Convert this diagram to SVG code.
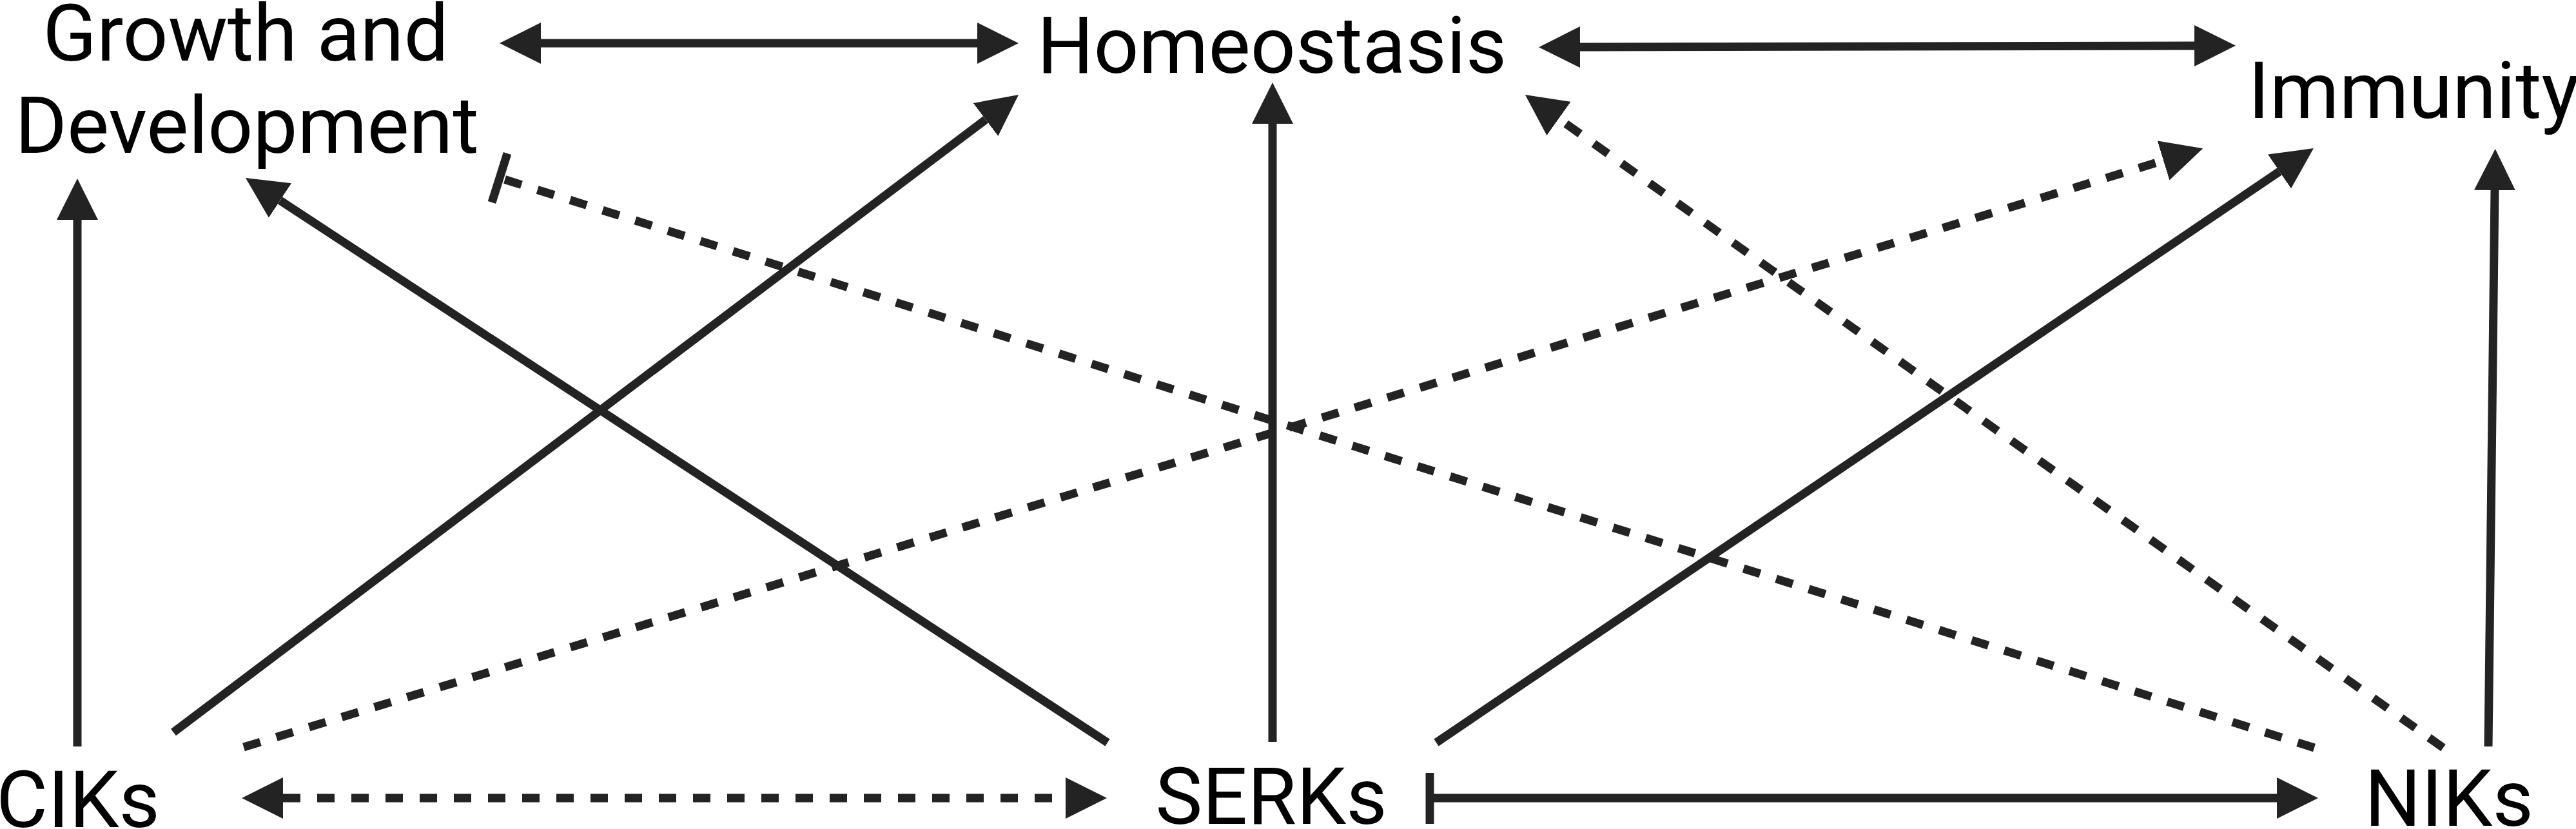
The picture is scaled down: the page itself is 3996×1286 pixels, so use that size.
<svg xmlns="http://www.w3.org/2000/svg" width="3996" height="1286" viewBox="0 0 3996 1286">
<style>
.lbl{font-family:Roboto,"Liberation Sans",sans-serif;font-size:123px;fill:#000;text-anchor:middle}
.c{stroke:#232323;stroke-width:13;fill:none}
.d{stroke-dasharray:27 26}
</style>
<defs>
<marker id="ah" viewBox="0 0 64 64" refX="0" refY="32" markerWidth="64" markerHeight="64" markerUnits="userSpaceOnUse" orient="auto-start-reverse">
<path d="M0,0 L64,32 L0,64 Z" fill="#232323"/>
</marker>
</defs>
<rect width="3996" height="1286" fill="#fff"/>
<g id="growth"><text class="lbl" x="381" y="94">Growth and</text><text class="lbl" x="383" y="237">Development</text></g>
<g id="homeostasis"><text class="lbl" x="1973" y="113">Homeostasis</text></g>
<g id="immunity"><text class="lbl" x="3744" y="183">Immunity</text></g>
<g id="ciks"><text class="lbl" x="121" y="1283">CIKs</text></g>
<g id="serks"><text class="lbl" x="1972" y="1278">SERKs</text></g>
<g id="niks"><text class="lbl" x="3799" y="1281">NIKs</text></g>
<g id="connectors">
<line class="c" x1="839" y1="67" x2="1516" y2="67" marker-start="url(#ah)" marker-end="url(#ah)"/>
<line class="c" x1="2451" y1="73" x2="3404" y2="71" marker-start="url(#ah)" marker-end="url(#ah)"/>
<line class="c" x1="120" y1="1158" x2="120" y2="341" marker-end="url(#ah)"/>
<line class="c" x1="269" y1="1136" x2="1529" y2="185.5" marker-end="url(#ah)"/>
<line class="c d" x1="378" y1="1159" x2="3356" y2="249" marker-end="url(#ah)"/>
<line class="c d" x1="439" y1="1238" x2="1653" y2="1238" marker-start="url(#ah)" marker-end="url(#ah)"/>
<line class="c" x1="1718" y1="1152" x2="434.5" y2="311" marker-end="url(#ah)"/>
<line class="c" x1="1974" y1="1151" x2="1974" y2="192" marker-end="url(#ah)"/>
<line class="c" x1="2228" y1="1152" x2="3536" y2="266" marker-end="url(#ah)"/>
<line class="c" x1="2218" y1="1238" x2="3532" y2="1238" marker-end="url(#ah)"/>
<line class="c" x1="2218" y1="1199" x2="2218" y2="1278"/>
<line class="c" x1="3860" y1="1158" x2="3870" y2="295" marker-end="url(#ah)"/>
<line class="c d" x1="3790" y1="1160" x2="2418" y2="184" marker-end="url(#ah)"/>
<line class="c d" x1="3590" y1="1160" x2="775" y2="276"/>
<line class="c" x1="787" y1="238" x2="763" y2="314"/>
</g>
</svg>
